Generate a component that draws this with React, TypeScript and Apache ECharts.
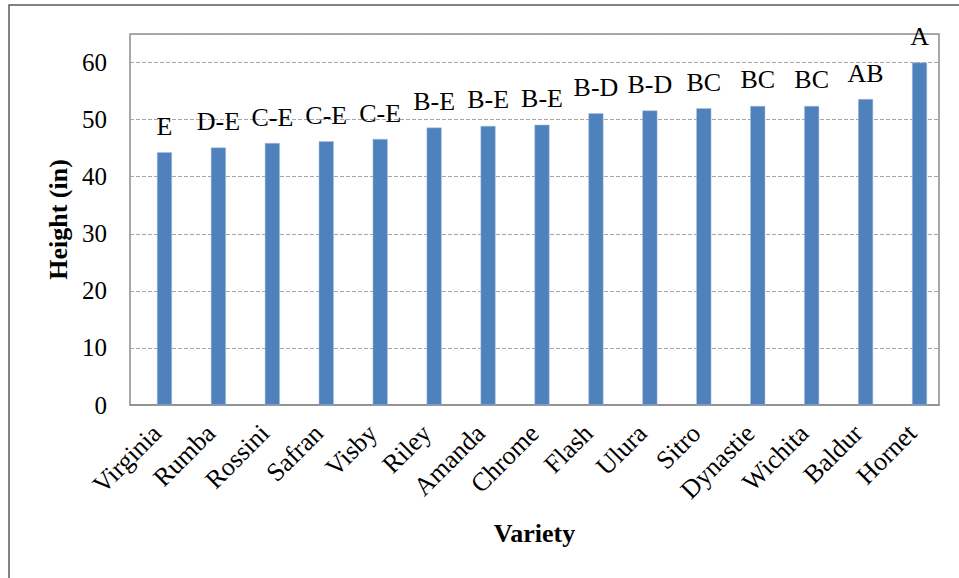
import React, { useEffect, useRef } from "react";
import * as echarts from "echarts";

const categories = [
  "Virginia", "Rumba", "Rossini", "Safran", "Visby", "Riley", "Amanda", "Chrome",
  "Flash", "Ulura", "Sitro", "Dynastie", "Wichita", "Baldur", "Hornet",
];
const heights = [44.3, 45.1, 45.9, 46.2, 46.6, 48.6, 48.9, 49.1, 51.1, 51.6, 52.0, 52.4, 52.4, 53.6, 60.0];
const groups = ["E", "D-E", "C-E", "C-E", "C-E", "B-E", "B-E", "B-E", "B-D", "B-D", "BC", "BC", "BC", "AB", "A"];
const yTicks = [0, 10, 20, 30, 40, 50, 60];

const FONT = "'Liberation Serif', 'Times New Roman', serif";

export default function App() {
  const ref = useRef<HTMLDivElement>(null);
  useEffect(() => {
    if (!ref.current) return;
    const chart = echarts.init(ref.current, undefined, { renderer: "svg" });
    chart.setOption({
      animation: false,
      backgroundColor: "#ffffff",
      textStyle: { fontFamily: FONT },
      graphic: [
        {
          type: "rect",
          shape: { x: 9, y: 5, width: 1200, height: 1000 },
          style: { fill: "none", stroke: "#595959", lineWidth: 1.5 },
          silent: true,
        },
      ],
      grid: {
        left: 130,
        top: 34,
        right: 20,
        bottom: 173,
        show: true,
        borderColor: "#8c8c8c",
        borderWidth: 1.5,
        backgroundColor: "transparent",
      },
      xAxis: {
        type: "category",
        data: categories,
        name: "Variety",
        nameLocation: "middle",
        nameGap: 115,
        nameTextStyle: { fontFamily: FONT, fontSize: 26, fontWeight: "bold", color: "#000" },
        axisLine: { show: true, lineStyle: { color: "#8c8c8c", width: 1.5 } },
        axisTick: { show: false },
        axisLabel: {
          interval: 0,
          rotate: 45,
          margin: 24,
          fontFamily: FONT,
          fontSize: 26,
          color: "#000",
        },
      },
      yAxis: {
        type: "value",
        min: 0,
        max: 65,
        interval: 10,
        name: "Height (in)",
        nameLocation: "middle",
        nameGap: 58,
        nameTextStyle: { fontFamily: FONT, fontSize: 26, fontWeight: "bold", color: "#000" },
        axisLine: { show: false },
        axisTick: { show: false },
        axisLabel: {
          margin: 23,
          fontFamily: FONT,
          fontSize: 25,
          color: "#000",
          formatter: (v: number) => (yTicks.includes(v) ? String(v) : ""),
        },
        splitLine: {
          show: true,
          lineStyle: { color: "#a6a6a6", type: [4, 2], width: 1 },
        },
      },
      series: [
        {
          type: "bar",
          name: "placeholder",
          data: [],
          barWidth: 15,
          barGap: "0%",
          silent: true,
        },
        {
          type: "bar",
          name: "Height",
          data: heights,
          barWidth: 15,
          barGap: "0%",
          itemStyle: { color: "#4f81bd", borderColor: "#a9c1e0", borderWidth: 0.5 },
          label: {
            show: true,
            position: "top",
            distance: 13,
            fontFamily: FONT,
            fontSize: 26,
            color: "#000",
            formatter: (p: any) => groups[p.dataIndex],
          },
        },
      ],
    });
    return () => chart.dispose();
  }, []);
  return (
    <div
      ref={ref}
      style={{ position: "absolute", left: 0, top: 0, width: 959, height: 578 }}
    />
  );
}
